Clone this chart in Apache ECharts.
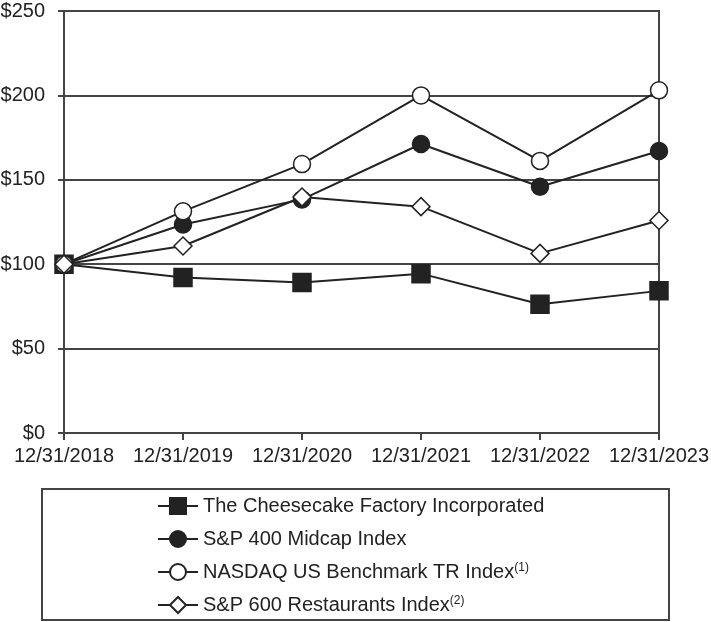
<!DOCTYPE html>
<html>
<head>
<meta charset="utf-8">
<script src="https://cdn.jsdelivr.net/npm/echarts@6/dist/echarts.min.js"></script>
<style>html,body{margin:0;padding:0;background:#fff}#c{width:711px;height:622px}</style>
</head>
<body>
<div id="c"></div>
<script>
const categories = ['12/31/2018', '12/31/2019', '12/31/2020', '12/31/2021', '12/31/2022', '12/31/2023'];
const cheesecake = [100, 92.1, 89.1, 94.4, 76.3, 84.2];
const sp400 = [100, 123.5, 138.4, 171.2, 145.9, 167.1];
const nasdaq = [100, 131.3, 159.3, 200.0, 161.2, 203.0];
const sp600rest = [100, 110.8, 139.8, 134.1, 106.4, 125.9];
const yTicks = [0, 50, 100, 150, 200, 250];
const seriesNames = ['The Cheesecake Factory Incorporated', 'S&P 400 Midcap Index', 'NASDAQ US Benchmark TR Index', 'S&P 600 Restaurants Index'];
const footnotes = ['', '', '(1)', '(2)'];

const FONT = "'Liberation Sans', Arial, sans-serif";
const INK = '#222';
const chart = echarts.init(document.getElementById('c'), null, {renderer: 'canvas'});

function mk(name, data, symbol, fill, size) {
  return {
    name: name, type: 'line', data: data, symbol: symbol, symbolSize: size,
    lineStyle: {color: INK, width: 2},
    itemStyle: {color: fill, borderColor: INK, borderWidth: 1.5},
    emphasis: {disabled: true}, animation: false, z: 3
  };
}

chart.setOption({
  animation: false,
  textStyle: {fontFamily: FONT},
  grid: {left: 64, right: 52, top: 11, bottom: 189, show: true, borderColor: '#444', borderWidth: 2,
    containLabel: false, outerBoundsMode: 'none'},
  xAxis: {
    type: 'category', data: categories, boundaryGap: false,
    axisLine: {lineStyle: {color: '#444', width: 2}},
    axisTick: {show: true, length: 7, alignWithLabel: true, interval: 0, lineStyle: {color: '#444', width: 2}},
    axisLabel: {fontSize: 20, color: INK, margin: 13, fontFamily: FONT, interval: 0, hideOverlap: false},
    splitLine: {show: false}
  },
  yAxis: {
    type: 'value', min: 0, max: 250, interval: 50,
    axisLine: {show: true, lineStyle: {color: '#444', width: 2}},
    axisTick: {show: true, length: 6, lineStyle: {color: '#444', width: 2}},
    axisLabel: {fontSize: 20, color: INK, margin: 19, fontFamily: FONT,
      formatter: v => yTicks.indexOf(v) >= 0 ? '$' + v : ''},
    splitLine: {show: true, lineStyle: {color: '#444', width: 2}}
  },
  legend: {
    orient: 'vertical', left: 157, top: 496, padding: 0, itemGap: 13,
    itemWidth: 40, itemHeight: 20,
    data: seriesNames,
    formatter: function (n) {
      const i = seriesNames.indexOf(n);
      return footnotes[i] ? n + '{sup|' + footnotes[i] + '}' : n;
    },
    textStyle: {fontSize: 20, color: INK, fontFamily: FONT,
      rich: {sup: {fontSize: 12, verticalAlign: 'top', color: INK, fontFamily: FONT, padding: [0, 0, 8, 0]}}}
  },
  graphic: [{
    type: 'rect', shape: {x: 42, y: 489, width: 627, height: 131},
    style: {fill: 'none', stroke: '#444', lineWidth: 2}, silent: true
  }],
  series: [
    mk(seriesNames[0], cheesecake, 'rect', INK, 18),
    mk(seriesNames[1], sp400, 'circle', INK, 17),
    mk(seriesNames[2], nasdaq, 'circle', '#fff', 17),
    mk(seriesNames[3], sp600rest, 'diamond', '#fff', 18)
  ]
});
</script>
</body>
</html>
